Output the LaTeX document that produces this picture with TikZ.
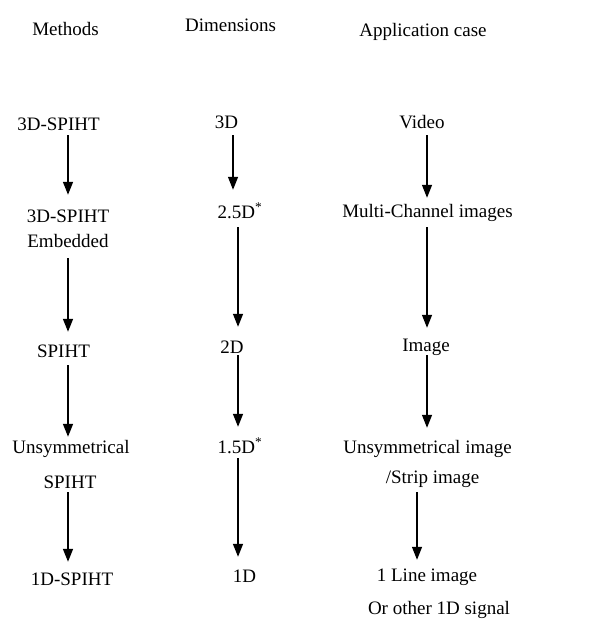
\documentclass[tikz,border=0pt]{standalone}
\usepackage{fontspec}
\setmainfont{Liberation Serif}
\usetikzlibrary{arrows.meta}
\begin{document}
\begin{tikzpicture}[x=1pt,y=-1pt,
  lbl/.style={anchor=base,inner sep=0pt,text height=13pt,text depth=0pt,font=\fontsize{19}{22}\selectfont},
  arr/.style={line width=1.3pt,-{Triangle[length=13pt,width=10pt]}}]
\useasboundingbox (0,0) rectangle (606,619);
% column x positions for the arrows
\coordinate (mx) at (68,0);
\coordinate (dxa) at (233,0);
\coordinate (dxb) at (238,0);
\coordinate (axa) at (427,0);
\coordinate (axb) at (417,0);
% headers
\node[lbl] (h1) at (65.5,35) {Methods};
\node[lbl] (h2) at (230.5,31) {Dimensions};
\node[lbl] (h3) at (423,36) {Application case};
% methods
\node[lbl] (m1) at (58.5,130) {3D-SPIHT};
\node[lbl] (m2) at (68,222) {3D-SPIHT};
\node[lbl] (m2b) at (68,247) {Embedded};
\node[lbl] (m3) at (63.5,357) {SPIHT};
\node[lbl] (m4) at (71,453) {Unsymmetrical};
\node[lbl] (m4b) at (70,488) {SPIHT};
\node[lbl] (m5) at (72,585) {1D-SPIHT};
% dimensions
\node[lbl] (d1) at (226.5,128) {3D};
\node[lbl] (d2) at (240,218) {2.5D\textsuperscript{*}};
\node[lbl] (d3) at (232,353) {2D};
\node[lbl] (d4) at (240,453) {1.5D\textsuperscript{*}};
\node[lbl] (d5) at (244.5,582) {1D};
% applications
\node[lbl] (a1) at (422,128) {Video};
\node[lbl] (a2) at (427.5,217) {Multi-Channel images};
\node[lbl] (a3) at (426,351) {Image};
\node[lbl] (a4) at (427.5,453) {Unsymmetrical image};
\node[lbl] (a4b) at (432.5,483) {/Strip image};
\node[lbl] (a5) at (427,581) {1 Line image};
\node[lbl] (a5b) at (439,614) {Or other 1D signal};
% arrows: methods
\draw[arr,shorten <=5pt,shorten >=14pt] (m1.south -| mx) -- (m2.north -| mx);
\draw[arr,shorten <=11pt,shorten >=12pt] (m2b.south -| mx) -- (m3.north -| mx);
\draw[arr,shorten <=8pt,shorten >=3pt] (m3.south -| mx) -- (m4.north -| mx);
\draw[arr,shorten <=4pt,shorten >=10pt] (m4b.south -| mx) -- (m5.north -| mx);
% arrows: dimensions
\draw[arr,shorten <=7pt,shorten >=15pt] (d1.south -| dxa) -- (d2.north -| dxa);
\draw[arr,shorten <=9pt,shorten >=13pt] (d2.south -| dxb) -- (d3.north -| dxb);
\draw[arr,shorten <=2pt,shorten >=13pt] (d3.south -| dxb) -- (d4.north -| dxb);
\draw[arr,shorten <=5pt,shorten >=12pt] (d4.south -| dxb) -- (d5.north -| dxb);
% arrows: applications
\draw[arr,shorten <=7pt,shorten >=6pt] (a1.south -| axa) -- (a2.north -| axa);
\draw[arr,shorten <=10pt,shorten >=10pt] (a2.south -| axa) -- (a3.north -| axa);
\draw[arr,shorten <=4pt,shorten >=12pt] (a3.south -| axa) -- (a4.north -| axa);
\draw[arr,shorten <=9pt,shorten >=8pt] (a4b.south -| axb) -- (a5.north -| axb);
\end{tikzpicture}
\end{document}
